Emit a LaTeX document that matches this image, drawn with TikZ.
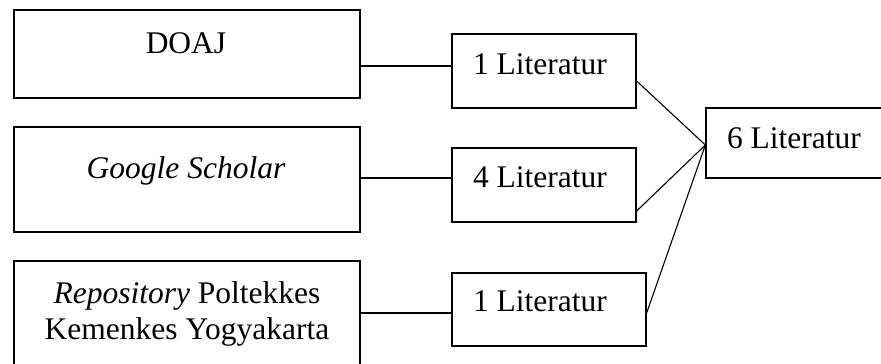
\documentclass[tikz,border=0pt]{standalone}
\usepackage{fontspec}
\setmainfont{Liberation Serif}
\begin{document}
\begin{tikzpicture}[x=1pt,y=-1pt,
  lbox/.style={draw, line width=2pt, inner sep=0pt, minimum width=346.5pt},
  mbox/.style={draw, line width=1.3pt, inner sep=0pt},
  txt/.style={inner sep=0pt, anchor=base, font=\fontsize{31.5}{36}\selectfont},
  conn/.style={line width=1.1pt}]
\useasboundingbox (0,0) rectangle (881,364);
\fill[white] (0,0) rectangle (881,364);
\clip (0,0) rectangle (881,364);
% left boxes
\node[lbox, minimum height=88pt] (doaj) at (186.75,54) {};
\node[lbox, minimum height=105pt] (gs) at (186.75,179.5) {};
\node[lbox, minimum height=119pt] (repo) at (186.75,320.5) {};
\node[txt] (doajT) at (186,53) {DOAJ};
\node[txt] (gsT) at (186,178) {\textit{Google Scholar}};
\node[txt] (repoT1) at (187,303) {\textit{Repository} Poltekkes};
\node[txt] (repoT2) at (187,339) {Kemenkes Yogyakarta};
% middle boxes
\node[mbox, minimum width=184pt, minimum height=74pt] (m1) at (544,71) {};
\node[mbox, minimum width=184pt, minimum height=74pt] (m2) at (544,185) {};
\node[mbox, minimum width=194pt, minimum height=73pt] (m3) at (549,309.5) {};
\node[txt] (m1T) at (540,74) {1 Literatur};
\node[txt] (m2T) at (540,187) {4 Literatur};
\node[txt] (m3T) at (540,311) {1 Literatur};
% right box
\node[mbox, minimum width=200pt, minimum height=70pt] (r) at (806,143) {};
\node[txt] (rT) at (794,148) {6 Literatur};
% connectors
\coordinate (c1) at (400,66);
\coordinate (c2) at (400,178);
\coordinate (c3) at (400,313);
\draw[conn] (doaj.east |- c1) -- (m1.west |- c1);
\draw[conn] (gs.east |- c2) -- (m2.west |- c2);
\draw[conn] (repo.east |- c3) -- (m3.west |- c3);
\draw[conn] ([yshift=-10pt]m1.east) -- ([yshift=-2pt]r.west);
\draw[conn] ([yshift=-26pt]m2.east) -- ([yshift=-2pt]r.west);
\draw[conn] ([yshift=-3.5pt]m3.east) -- ([yshift=-2pt]r.west);
\end{tikzpicture}
\end{document}
